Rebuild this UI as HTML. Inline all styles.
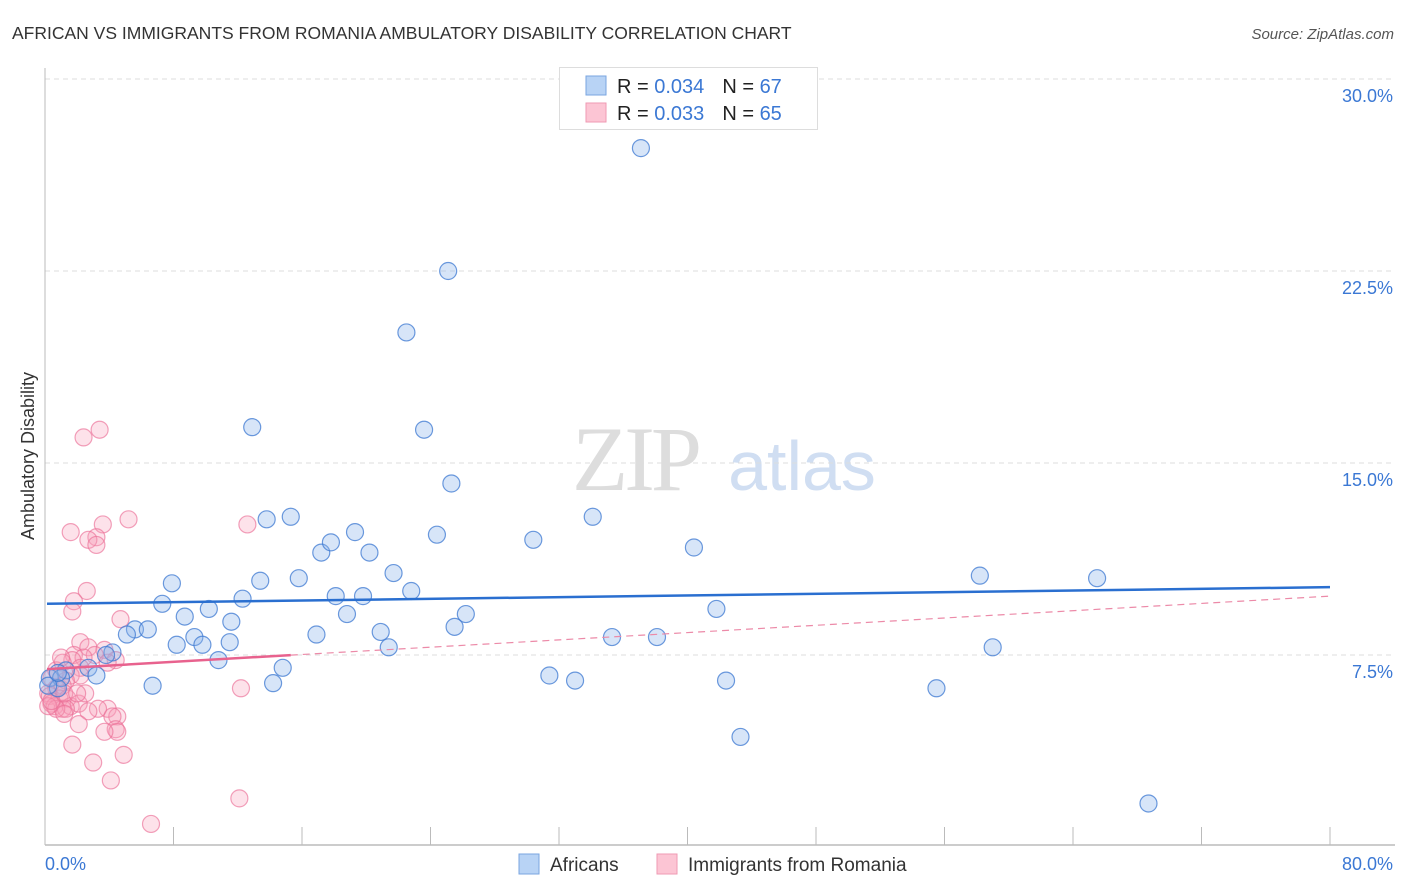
<!DOCTYPE html>
<html><head><meta charset="utf-8">
<style>
body{margin:0;background:#fff;font-family:"Liberation Sans",sans-serif;}
#wrap{position:relative;width:1406px;height:892px;overflow:hidden;}
</style></head>
<body>
<div id="wrap">
<svg id="svg" width="1406" height="892">
<text x="12" y="39" font-size="17.5" fill="#333">AFRICAN VS IMMIGRANTS FROM ROMANIA AMBULATORY DISABILITY CORRELATION CHART</text>
<text x="1394" y="39" font-size="15" fill="#555" font-style="italic" text-anchor="end">Source: ZipAtlas.com</text>
<text x="34" y="456" font-size="18" fill="#333" text-anchor="middle" transform="rotate(-90 34 456)">Ambulatory Disability</text>
<g>
<text x="635" y="490" font-size="92" fill="#ddd" font-family="Liberation Serif,serif" text-anchor="middle" letter-spacing="-4">ZIP</text>
<text x="802" y="490" font-size="70" fill="#d0def2" text-anchor="middle">atlas</text>
</g>
<g id="grid"></g>
<g id="axes"></g>
<g id="pts"></g>
<g id="trend"></g>
<g>
<rect x="559.5" y="67.5" width="258" height="62" fill="#fff" stroke="#ddd"/>
<rect x="586" y="76" width="20" height="19" fill="#b8d3f5" stroke="#7aa6e0"/>
<rect x="586" y="103" width="20" height="19" fill="#fcc5d4" stroke="#ef9ab3"/>
<text x="617" y="93" font-size="20" fill="#222">R = <tspan fill="#3b78d4">0.034</tspan><tspan dx="18">N = </tspan><tspan fill="#3b78d4">67</tspan></text>
<text x="617" y="120" font-size="20" fill="#222">R = <tspan fill="#3b78d4">0.033</tspan><tspan dx="18">N = </tspan><tspan fill="#3b78d4">65</tspan></text>
</g>
<g>
<rect x="519" y="854" width="20" height="20" fill="#b8d3f5" stroke="#7aa6e0"/>
<text x="550" y="871" font-size="19" fill="#333">Africans</text>
<rect x="657" y="854" width="20" height="20" fill="#fcc5d4" stroke="#ef9ab3"/>
<text x="688" y="871" font-size="19" fill="#333">Immigrants from Romania</text>
</g>
</svg>
</div>
<script>
const yTicks=[7.5,15,22.5,30];
const yTickLabels=["7.5%","15.0%","22.5%","30.0%"];
const xTickLabels=["0.0%","80.0%"];
const africansX=[37.1,25.1,22.5,12.9,23.6,25.3,34.1,13.8,15.3,19.3,24.4,30.4,40.4,17.2,17.8,20.2,58.2,65.5,21.7,13.4,15.8,7.9,22.8,12.3,18.1,19.8,7.3,10.2,41.8,26.2,18.8,8.7,11.6,25.5,20.9,16.9,5.6,6.4,5.1,9.3,35.3,38.1,8.2,9.8,11.5,21.4,59.0,4.2,3.8,10.8,2.7,14.8,1.3,3.2,0.3,1.0,31.4,33.0,42.4,6.7,14.2,55.5,0.8,0.2,43.3,68.7,0.8];
const africansY=[27.3,22.5,20.1,16.4,16.3,14.2,12.9,12.8,12.9,12.3,12.2,12.0,11.7,11.5,11.9,11.5,10.6,10.5,10.7,10.4,10.5,10.3,10.0,9.7,9.8,9.8,9.5,9.3,9.3,9.1,9.1,9.0,8.8,8.6,8.4,8.3,8.5,8.5,8.3,8.2,8.2,8.2,7.9,7.9,8.0,7.8,7.8,7.6,7.5,7.3,7.0,7.0,6.9,6.7,6.6,6.6,6.7,6.5,6.5,6.3,6.4,6.2,6.2,6.3,4.3,1.7,6.8];
const romaniaX=[3.4,2.4,1.6,3.6,3.2,2.7,3.2,5.2,12.6,2.6,1.8,1.7,4.7,2.2,2.7,1.8,3.7,3.1,2.4,1.7,1.1,4.4,2.2,1.6,0.4,2.2,1.3,1.1,0.7,0.2,0.3,0.9,1.4,0.4,0.6,1.1,1.6,2.1,3.9,3.3,1.3,0.7,1.2,0.2,0.4,2.7,4.5,4.2,2.1,4.4,4.5,3.7,1.7,4.9,3.0,4.1,12.2,12.1,6.6,0.7,1.2,2.5,3.9,2.0,1.0];
const romaniaY=[16.3,16.0,12.3,12.6,12.1,12.0,11.8,12.8,12.6,10.0,9.6,9.2,8.9,8.0,7.8,7.5,7.7,7.5,7.4,7.3,7.2,7.3,7.0,6.7,6.6,6.7,6.5,6.3,6.2,6.0,5.9,5.8,5.8,5.6,5.5,5.4,5.5,5.6,5.4,5.4,5.4,5.4,5.2,5.5,5.7,5.3,5.1,5.1,4.8,4.6,4.5,4.5,4.0,3.6,3.3,2.6,6.2,1.9,0.9,6.9,6.0,6.0,7.2,6.0,7.4];
const blueTrend=[0,9.5,80,10.15];
const pinkTrend=[0,6.95,80,9.8,15.3];
const NS="http://www.w3.org/2000/svg";
const xs=v=>45+v/80*1285, ys=v=>847-v/7.5*192;
function mk(t,a,p){const e=document.createElementNS(NS,t);for(const k in a)e.setAttribute(k,a[k]);p.appendChild(e);return e;}
const grid=document.getElementById('grid'),axes=document.getElementById('axes'),pts=document.getElementById('pts'),tr=document.getElementById('trend');
yTicks.forEach((v,i)=>{
 const l=mk('line',{x1:45,x2:1393,y1:ys(v),y2:ys(v),stroke:'#ddd','stroke-dasharray':'5,4'},grid);
 
 
 const t=mk('text',{x:1393,y:ys(v)+23,'font-size':18,fill:'#3b78d4','text-anchor':'end'},axes);
 t.textContent=yTickLabels[i];
 
 
});
const ya=mk('line',{x1:45,x2:45,y1:68,y2:845,stroke:'#bbb'},axes);


const xa=mk('line',{x1:45,x2:1395,y1:845,y2:845,stroke:'#bbb','stroke-width':1.5},axes);


for(let i=1;i<=10;i++){const tk=mk('line',{x1:xs(i*8),x2:xs(i*8),y1:827,y2:845,stroke:'#bbb'},axes);
 
 }
[[45,'start'],[1393,'end']].forEach((p,i)=>{const t=mk('text',{x:p[0],y:870,'font-size':18,fill:'#3b78d4','text-anchor':p[1]},axes);t.textContent=xTickLabels[i];
 
 });
romaniaX.forEach((x,i)=>{const c=mk('circle',{cx:xs(x),cy:ys(romaniaY[i]),r:8.5,fill:'rgba(248,160,185,0.3)',stroke:'rgba(235,110,150,0.65)','stroke-width':1.2},pts);
 
 });
africansX.forEach((x,i)=>{const c=mk('circle',{cx:xs(x),cy:ys(africansY[i]),r:8.5,fill:'rgba(140,180,235,0.35)',stroke:'rgba(60,120,210,0.75)','stroke-width':1.2},pts);
 
 });
const pslope=(pinkTrend[3]-pinkTrend[1])/(pinkTrend[2]-pinkTrend[0]);
const pd=mk('line',{x1:xs(pinkTrend[4]),y1:ys(pinkTrend[1]+pslope*pinkTrend[4]),x2:xs(pinkTrend[2]),y2:ys(pinkTrend[3]),stroke:'#ec8aa8','stroke-width':1.2,'stroke-dasharray':'7,5'},tr);


const ps=mk('line',{x1:xs(pinkTrend[0])+2,y1:ys(pinkTrend[1]),x2:xs(pinkTrend[4]),y2:ys(pinkTrend[1]+pslope*pinkTrend[4]),stroke:'#e8628e','stroke-width':2.5},tr);


const bl=mk('line',{x1:xs(blueTrend[0])+2,y1:ys(blueTrend[1]),x2:xs(blueTrend[2]),y2:ys(blueTrend[3]),stroke:'#2a6fd0','stroke-width':2.5},tr);


</script>
</body></html>
